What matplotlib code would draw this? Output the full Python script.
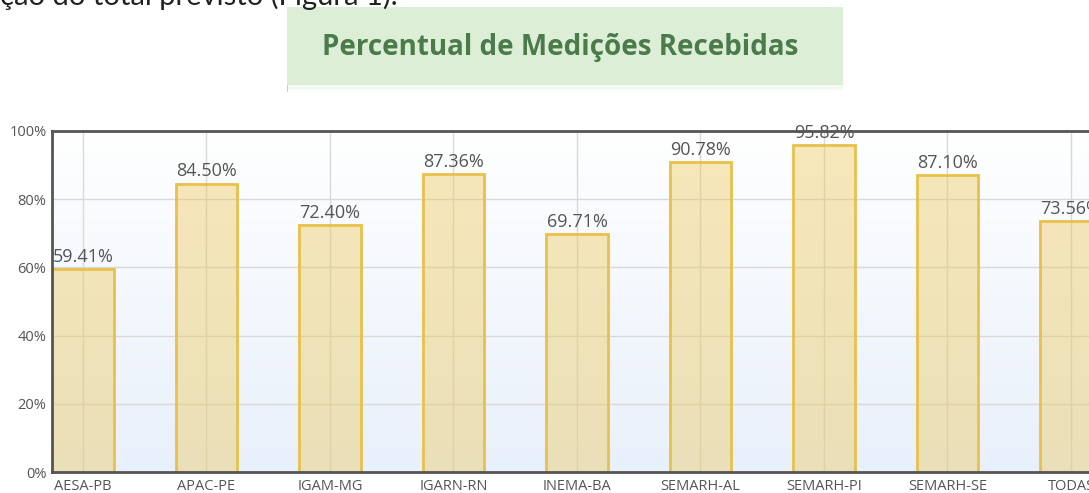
import numpy as np
import matplotlib
matplotlib.use("Agg")
import matplotlib.pyplot as plt
from matplotlib.patches import Rectangle

# ---------- data ----------
categories = ["AESA-PB", "APAC-PE", "IGAM-MG", "IGARN-RN", "INEMA-BA",
              "SEMARH-AL", "SEMARH-PI", "SEMARH-SE", "TODAS"]
percentuais = [59.41, 84.50, 72.40, 87.36, 69.71, 90.78, 95.82, 87.10, 73.56]
yticks = [0, 20, 40, 60, 80, 100]
titulo = "Percentual de Medições Recebidas"
texto_topo = "ção do total previsto (Figura 1)."
# --------------------------

W, H = 1089, 493
fig = plt.figure(figsize=(W / 100, H / 100), dpi=100)
plt.rcParams["font.family"] = ["Open Sans", "DejaVu Sans"]


def px(x0, y0, x1, y1):
    # pixel box -> figure fraction [left, bottom, width, height]
    return [x0 / W, 1 - y1 / H, (x1 - x0) / W, (y1 - y0) / H]


# cropped sentence of the surrounding document
fig.text(0 / W, 1 - 5 / H, texto_topo, fontsize=21, color="#222222",
         family=["Lato", "DejaVu Sans"], ha="left", va="baseline")

# title box
fig.patches.append(Rectangle((287 / W, 1 - 85 / H), (843 - 287) / W, 78 / H,
                             transform=fig.transFigure, facecolor="#dcefd6",
                             edgecolor="none"))
fig.patches.append(Rectangle((287 / W, 1 - 90 / H), (843 - 287) / W, 5 / H,
                             transform=fig.transFigure, facecolor="#f4f9f2",
                             edgecolor="none"))
fig.patches.append(Rectangle((287 / W, 1 - 92 / H), 1 / W, 7 / H,
                             transform=fig.transFigure, facecolor="#cccccc",
                             edgecolor="none"))
fig.text(560 / W, 1 - 47 / H, titulo, fontsize=20, fontweight="bold",
         color="#4b7a4b", ha="center", va="center")

# chart axes: x spacing 123.5 px, first center at x=83, extends past right edge
x_left = -0.25
x_right = 8.25
ax = fig.add_axes(px(52, 131, 83 + x_right * 123.5, 472))
ax.set_xlim(x_left, x_right)
ax.set_ylim(0, 100)

# background gradient (white at top, light blue at bottom)
grad = np.linspace(0, 1, 256).reshape(-1, 1)
cmap = matplotlib.colors.LinearSegmentedColormap.from_list(
    "bg", ["#ffffff", "#e8f0fb"])
ax.imshow(grad, extent=[x_left, x_right, 0, 100], origin="upper",
          aspect="auto", cmap=cmap, zorder=0)

x = np.arange(len(categories))
ax.set_yticks(yticks)
ax.set_yticklabels([f"{v}%" for v in yticks])
ax.set_xticks(x)
ax.set_xticklabels(categories)
ax.grid(True, color="#d9d9d9", linewidth=1, zorder=1)
ax.set_axisbelow(True)

ax.bar(x, percentuais, width=0.5, facecolor=(0.93, 0.78, 0.33, 0.40),
       edgecolor="#e8c04a", linewidth=2, zorder=2)

for xi, v in zip(x, percentuais):
    ax.text(xi, v + 1.0, f"{v:.2f}%", ha="center", va="bottom",
            fontsize=13, color="#555555", zorder=4)

for side in ["left", "top", "bottom"]:
    ax.spines[side].set_color("#555555")
    ax.spines[side].set_linewidth(2)
    ax.spines[side].set_zorder(3)
ax.spines["right"].set_visible(False)

ax.tick_params(length=0, labelsize=10.5, labelcolor="#555555")
ax.tick_params(axis="x", pad=5)
ax.tick_params(axis="y", pad=4)

fig.savefig("out.png", dpi=100)
